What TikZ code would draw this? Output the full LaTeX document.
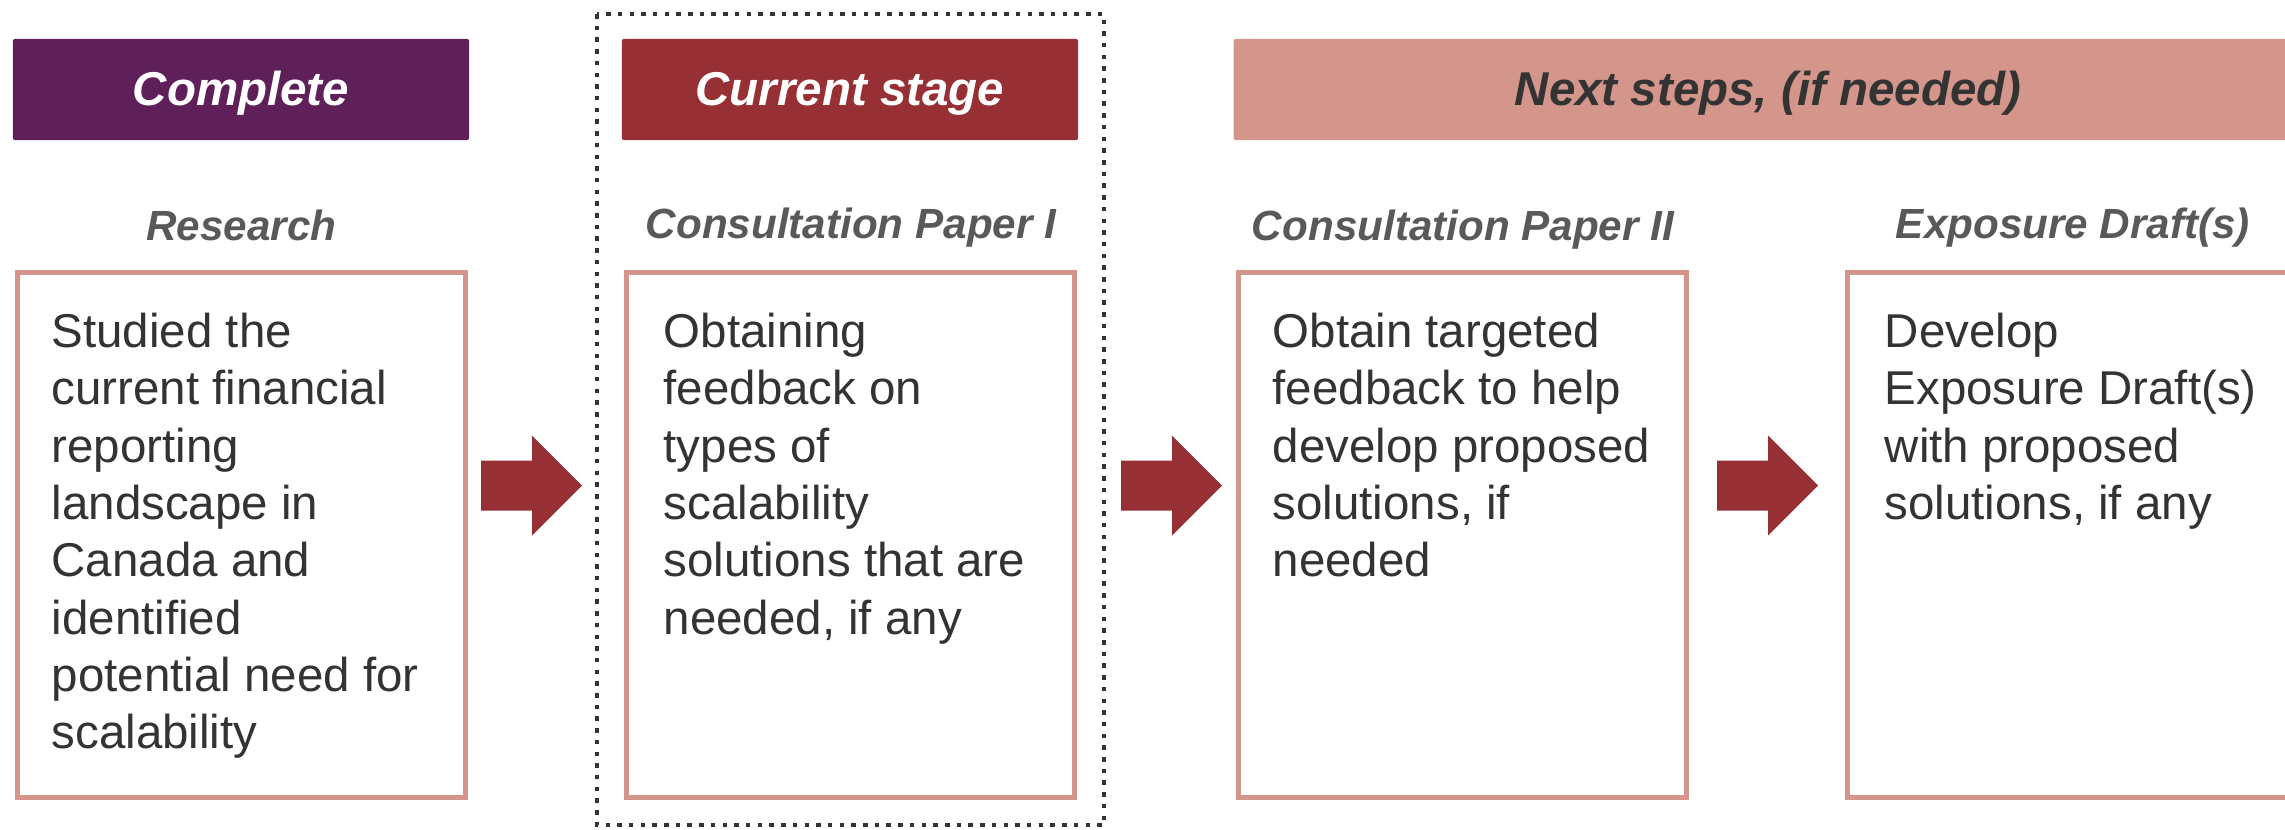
\documentclass[tikz,border=0pt]{standalone}
\usepackage{fontspec}
\setmainfont{Liberation Sans}
\definecolor{donepurple}{HTML}{5F1F59}
\definecolor{stagered}{HTML}{963034}
\definecolor{softpink}{HTML}{D4958B}
\definecolor{inkgray}{HTML}{333333}
\definecolor{labelgray}{HTML}{595959}
\tikzset{
  header/.style={rectangle, rounded corners=0.02cm, inner sep=0pt,
    minimum height=1.01cm},
  headertext/.style={anchor=base, inner sep=0pt,
    font=\fontsize{13.5}{16}\selectfont\bfseries\itshape},
  panel/.style={rectangle, draw=softpink, line width=0.055cm, fill=white,
    inner sep=0pt, minimum width=4.475cm, minimum height=5.245cm},
  phase/.style={anchor=base, inner sep=0pt, text=labelgray,
    font=\fontsize{12}{14}\selectfont\bfseries\itshape},
  bodytext/.style={anchor=north west, inner sep=0pt, align=left, text=inkgray,
    font=\fontsize{13.5}{16.3}\selectfont},
  flowarrow/.pic={
    \fill[stagered] (0,-25) -- (51,-25) -- (51,-50) -- (101,0)
      -- (51,50) -- (51,25) -- (0,25) -- cycle;
  }
}
\begin{document}
\begin{tikzpicture}[x=0.01cm,y=-0.01cm]
\useasboundingbox (0,0) rectangle (2285,829);
\clip (0,0) rectangle (2285,829);

% frame around the current stage
\draw[inkgray, line width=0.045cm, dash pattern=on 0.045cm off 0.072cm]
  (597,14) rectangle (1104,825);

% stage headers
\node[header, fill=donepurple, minimum width=4.56cm] (hcomplete) at (241,89.5) {};
\node[header, fill=stagered, minimum width=4.56cm] (hcurrent) at (850,89.5) {};
\node[header, fill=softpink, minimum width=10.68cm] (hnext) at (1768,89.5) {};
\node[headertext, text=white] (tcomplete) at (241,105) {Complete};
\node[headertext, text=white] (tcurrent) at (850,105) {Current stage};
\node[headertext, text=inkgray] (tnext) at (1768,105) {Next steps, (if needed)};

% phase titles
\node[phase] (lresearch) at (241.5,240) {Research};
\node[phase] (lcp1) at (851,238) {Consultation Paper I};
\node[phase] (lcp2) at (1463,240) {Consultation Paper II};
\node[phase] (led) at (2073,238) {Exposure Draft(s)};

% phase panels
\node[panel] (research) at (241.5,535) {};
\node[panel] (cp1) at (850.5,535) {};
\node[panel] (cp2) at (1462.5,535) {};
\node[panel] (ed) at (2071.5,535) {};

% panel texts
\node[bodytext] (tresearch) at (51,312.5)
  {Studied the\\current financial\\reporting\\landscape in\\Canada and\\identified\\potential need for\\scalability};
\node[bodytext] (tcp1) at (663,312.5)
  {Obtaining\\feedback on\\types of\\scalability\\solutions that are\\needed, if any};
\node[bodytext] (tcp2) at (1272,312.5)
  {Obtain targeted\\feedback to help\\develop proposed\\solutions, if\\needed};
\node[bodytext] (ted) at (1884,312.5)
  {Develop\\Exposure Draft(s)\\with proposed\\solutions, if any};

% arrows between panels
\pic at (481,485.5) {flowarrow};
\pic at (1121,485.5) {flowarrow};
\pic at (1717,485.5) {flowarrow};
\end{tikzpicture}
\end{document}
